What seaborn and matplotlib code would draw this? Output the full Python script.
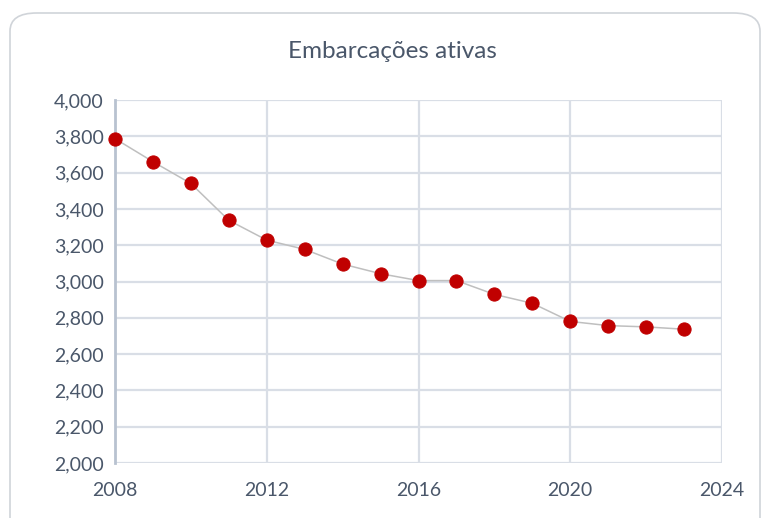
import numpy as np
import pandas as pd
import seaborn as sns
import matplotlib.pyplot as plt
from matplotlib.patches import FancyBboxPatch
from matplotlib.ticker import FuncFormatter, MultipleLocator

years = [2008, 2009, 2010, 2011, 2012, 2013, 2014, 2015,
         2016, 2017, 2018, 2019, 2020, 2021, 2022, 2023]
vessels = [3787, 3660, 3540, 3337, 3228, 3177, 3096, 3043,
           3005, 3005, 2929, 2880, 2780, 2757, 2750, 2737]

df = pd.DataFrame({'ano': years, 'embarcacoes': vessels})

sns.set_style('white')
plt.rcParams['font.family'] = ['Lato', 'DejaVu Sans']

text_col = '#4A576A'
grid_col = '#D9DEE6'

fig = plt.figure(figsize=(7.63, 5.18), dpi=100)
fig.patch.set_facecolor('white')

# rounded chart frame like the Excel chart area
frame = FancyBboxPatch((10 / 763, -0.05), 750 / 763, 1.0 - 13 / 518 + 0.05,
                       boxstyle='round,pad=0,rounding_size=0.035',
                       transform=fig.transFigure, facecolor='white',
                       edgecolor='#D0D4D9', linewidth=1.2, zorder=0)
fig.patches.append(frame)

ax = fig.add_axes([115 / 763, 1 - 463 / 518, (722 - 115) / 763, (463 - 100) / 518])
ax.set_facecolor('none')
ax.set_zorder(2)

sns.lineplot(data=df, x='ano', y='embarcacoes', ax=ax, color='#BFBFBF',
             linewidth=1.1, marker='o', markersize=9.5,
             markerfacecolor='#C00000', markeredgecolor='#C00000',
             zorder=3, clip_on=False)

ax.set_xlim(2008, 2024)
ax.set_ylim(2000, 4000)
ax.xaxis.set_major_locator(MultipleLocator(4))
ax.yaxis.set_major_locator(MultipleLocator(200))
ax.yaxis.set_major_formatter(FuncFormatter(lambda v, p: f'{int(v):,}'))

ax.grid(True, color=grid_col, linewidth=1.6)
ax.set_axisbelow(True)
for s in ['top', 'right', 'bottom']:
    ax.spines[s].set_visible(False)
ax.spines['left'].set_color('#B8C2D0')
ax.spines['left'].set_linewidth(2)

ax.tick_params(axis='both', length=0, labelsize=14, colors=text_col)
ax.tick_params(axis='x', pad=14)
ax.tick_params(axis='y', pad=8)
ax.set_xlabel('')
ax.set_ylabel('')

fig.text(392 / 763, 1 - 52 / 518, 'Embarcações ativas', ha='center', va='center',
         fontsize=17.5, color=text_col)

fig.savefig('out.png', dpi=100)
